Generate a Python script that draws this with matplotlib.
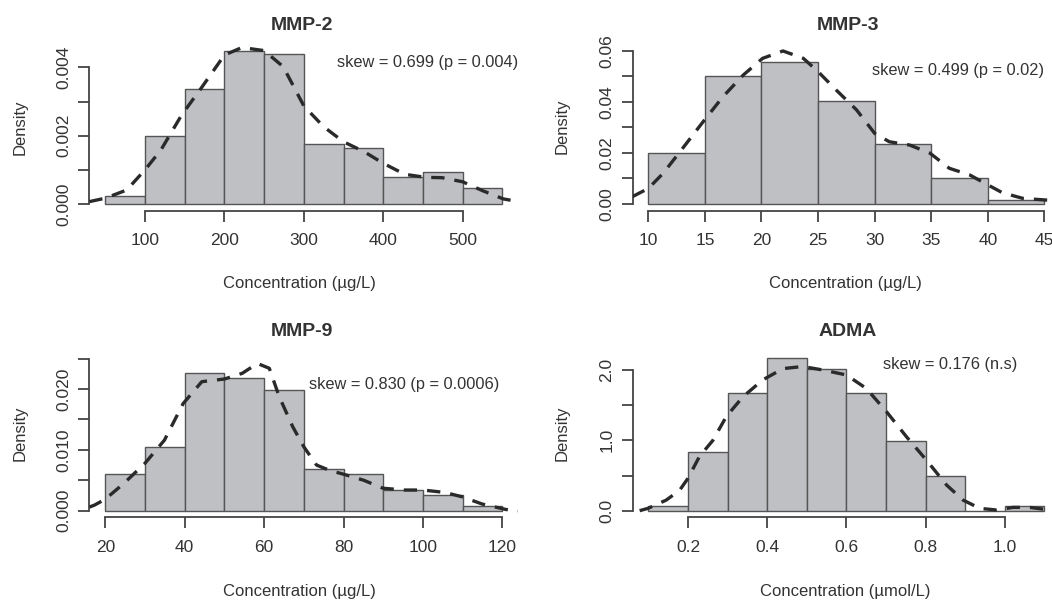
import numpy as np
import matplotlib
matplotlib.use("Agg")
import matplotlib.pyplot as plt

plt.rcParams['font.family'] = ['Liberation Sans', 'DejaVu Sans']

# ---------------- data ----------------
mmp2_edges = [50, 100, 150, 200, 250, 300, 350, 400, 450, 500, 550]
mmp2_density = [0.00024, 0.0020, 0.00336, 0.00449, 0.00438, 0.00176, 0.00165, 0.00080, 0.00093, 0.00046]
mmp2_kde_x = [30, 50, 77, 100, 120, 146, 171, 200, 222, 250, 274, 300, 325, 350, 376, 400, 427, 453, 474, 500, 525, 551, 570]
mmp2_kde_y = [0.00007, 0.00017, 0.00041, 0.0010, 0.00158, 0.0026, 0.0034, 0.00436, 0.00458, 0.00449, 0.00402,
              0.00287, 0.00226, 0.00182, 0.00153, 0.00119, 0.00087, 0.00078, 0.00077, 0.00065, 0.00039, 0.00015, 0.00007]
mmp2_xticks = [100, 200, 300, 400, 500]
mmp2_yticks = [0.000, 0.001, 0.002, 0.003, 0.004]
mmp2_ylabels = ['0.000', '', '0.002', '', '0.004']

mmp3_edges = [10, 15, 20, 25, 30, 35, 40, 45]
mmp3_density = [0.0199, 0.0503, 0.0556, 0.0404, 0.0235, 0.0101, 0.0014]
mmp3_kde_x = [8.6, 10, 11.3, 12.8, 14.85, 16.6, 18.4, 20.1, 21.9, 23.7, 25, 26.6, 28.4, 30, 31.3, 33.1, 34.9,
              36.6, 38.4, 40, 41.3, 43.1, 45, 46.4]
mmp3_kde_y = [0.0029, 0.0061, 0.012, 0.0205, 0.0323, 0.0421, 0.0506, 0.0571, 0.0600, 0.0571, 0.0519, 0.0447,
              0.0369, 0.0277, 0.0244, 0.0231, 0.0199, 0.0140, 0.0114, 0.0075, 0.0044, 0.0022, 0.0016, 0.0012]
mmp3_xticks = [10, 15, 20, 25, 30, 35, 40, 45]
mmp3_yticks = [0.00, 0.01, 0.02, 0.03, 0.04, 0.05, 0.06]
mmp3_ylabels = ['0.00', '', '0.02', '', '0.04', '', '0.06']

mmp9_edges = [20, 30, 40, 50, 60, 70, 80, 90, 100, 110, 120]
mmp9_density = [0.0060, 0.01052, 0.02268, 0.02175, 0.01984, 0.00685, 0.0060, 0.0034, 0.00252, 0.00077]
mmp9_kde_x = [16, 17.3, 20, 24.7, 30, 34.9, 39.6, 44.3, 50, 54.5, 58.3, 61.3, 63.8, 67.2, 70, 73.2, 76.6, 80,
              85.1, 89.9, 95.3, 100, 105.5, 109.8, 114.9, 120.9, 124]
mmp9_kde_y = [0.0006, 0.00093, 0.0019, 0.0045, 0.0078, 0.0116, 0.0176, 0.0212, 0.02164, 0.02258, 0.0242, 0.0234,
              0.01874, 0.0138, 0.0105, 0.0075, 0.0066, 0.0060, 0.0050, 0.0037, 0.0034, 0.0034, 0.0030, 0.0023,
              0.0011, 0.0002, 0.0]
mmp9_xticks = [20, 40, 60, 80, 100, 120]
mmp9_yticks = [0.000, 0.005, 0.010, 0.015, 0.020, 0.025]
mmp9_ylabels = ['0.000', '', '0.010', '', '0.020', '']

adma_edges = [0.1, 0.2, 0.3, 0.4, 0.5, 0.6, 0.7, 0.8, 0.9, 1.0, 1.1]
adma_density = [0.066, 0.829, 1.678, 2.175, 2.009, 1.678, 0.995, 0.498, 0.0, 0.066]
adma_kde_x = [0.078, 0.099, 0.145, 0.179, 0.2, 0.229, 0.263, 0.297, 0.339, 0.389, 0.44, 0.49, 0.541, 0.6, 0.65,
              0.701, 0.752, 0.802, 0.853, 0.895, 0.937, 0.979, 1.021, 1.063, 1.1, 1.118]
adma_kde_y = [0.0, 0.033, 0.15, 0.29, 0.46, 0.77, 1.0, 1.34, 1.62, 1.86, 2.02, 2.05, 2.0, 1.93, 1.74, 1.41,
              1.05, 0.72, 0.365, 0.15, 0.033, 0.01, 0.047, 0.047, 0.02, 0.0]
adma_xticks = [0.2, 0.4, 0.6, 0.8, 1.0]
adma_yticks = [0.0, 0.5, 1.0, 1.5, 2.0]
adma_ylabels = ['0.0', '', '1.0', '', '2.0']

titles = ['MMP-2', 'MMP-3', 'MMP-9', 'ADMA']
skew_texts = ['skew = 0.699 (p = 0.004)', 'skew = 0.499 (p = 0.02)',
              'skew = 0.830 (p = 0.0006)', 'skew = 0.176 (n.s)']
xlabels = ['Concentration (µg/L)', 'Concentration (µg/L)',
           'Concentration (µg/L)', 'Concentration (µmol/L)']

# ---------------- layout ----------------
W, H = 1052, 601
fig = plt.figure(figsize=(W / 100, H / 100), dpi=100)
fig.patch.set_facecolor('white')

TXT = '#333333'
BAR = '#bfc0c4'
EDGE = '#555555'
AX = '#444444'


def ax_px(left, top, right, bottom):
    return fig.add_axes([left / W, 1 - bottom / H, (right - left) / W, (bottom - top) / H])


def ftext(x, y, s, **kw):
    fig.text(x / W, 1 - y / H, s, color=TXT, **kw)


panels = [
    dict(edges=mmp2_edges, dens=mmp2_density, kx=mmp2_kde_x, ky=mmp2_kde_y, xt=mmp2_xticks,
         yt=mmp2_yticks, yl=mmp2_ylabels, xlim=(30, 570), ylim=(-0.000196, 0.00478),
         box=(89.4, 40.7, 518.3, 210.7), xfmt='{:g}'),
    dict(edges=mmp3_edges, dens=mmp3_density, kx=mmp3_kde_x, ky=mmp3_kde_y, xt=mmp3_xticks,
         yt=mmp3_yticks, yl=mmp3_ylabels, xlim=(8.6, 46.4), ylim=(-0.00255, 0.0641),
         box=(632.5, 40.5, 1060.2, 210.5), xfmt='{:g}'),
    dict(edges=mmp9_edges, dens=mmp9_density, kx=mmp9_kde_x, ky=mmp9_kde_y, xt=mmp9_xticks,
         yt=mmp9_yticks, yl=mmp9_ylabels, xlim=(16, 124), ylim=(-0.00108, 0.02685),
         box=(89.4, 347.3, 518.3, 517.3), xfmt='{:g}'),
    dict(edges=adma_edges, dens=adma_density, kx=adma_kde_x, ky=adma_kde_y, xt=adma_xticks,
         yt=adma_yticks, yl=adma_ylabels, xlim=(0.06, 1.14), ylim=(-0.094, 2.323),
         box=(632.5, 347.3, 1060.2, 517.3), xfmt='{:.1f}'),
]

title_pos = [(301.7, 25), (848, 25), (301.7, 332), (848, 332)]
skew_pos = [(337, 62.7), (871.7, 71), (309, 385), (883, 365)]
ylab_pos = [(20, 127.7), (561.7, 126.7), (20, 433), (561.7, 433)]
xlab_pos = [(299, 283.3), (845, 283.3), (299, 591.7), (845, 591.7)]

for i, p in enumerate(panels):
    ax = ax_px(*p['box'])
    ax.set_facecolor('none')
    edges = np.array(p['edges'], dtype=float)
    ax.bar(edges[:-1], p['dens'], width=np.diff(edges), align='edge',
           color=BAR, edgecolor=EDGE, linewidth=1.0, zorder=2)
    ax.plot(p['kx'], p['ky'], color='#2a2a2a', lw=2.4, linestyle=(0, (4.0, 3.0)),
            zorder=3, solid_capstyle='butt', dash_capstyle='butt')
    ax.set_xlim(*p['xlim'])
    ax.set_ylim(*p['ylim'])
    for s in ('top', 'right'):
        ax.spines[s].set_visible(False)
    for s in ('left', 'bottom'):
        ax.spines[s].set_color(AX)
        ax.spines[s].set_linewidth(1.3)
    ax.spines['left'].set_bounds(p['yt'][0], p['yt'][-1])
    ax.spines['bottom'].set_bounds(p['xt'][0], p['xt'][-1])
    ax.set_xticks(p['xt'])
    ax.set_xticklabels([p['xfmt'].format(v) for v in p['xt']])
    ax.set_yticks(p['yt'])
    ax.set_yticklabels(p['yl'])
    ax.tick_params(axis='both', length=8, width=1.3, color=AX, labelcolor=TXT, labelsize=12.5)
    ax.tick_params(axis='x', pad=8)
    ax.tick_params(axis='y', pad=5)
    for lab in ax.get_yticklabels():
        lab.set_rotation(90)
        lab.set_va('center')
    ftext(*title_pos[i], titles[i], fontsize=14, fontweight='bold', ha='center', va='center')
    ftext(*skew_pos[i], skew_texts[i], fontsize=11.8, ha='left', va='center')
    ftext(*ylab_pos[i], 'Density', fontsize=12, ha='center', va='center', rotation=90)
    ftext(*xlab_pos[i], xlabels[i], fontsize=12, ha='center', va='center')

fig.savefig('out.png', dpi=100, facecolor='white')
